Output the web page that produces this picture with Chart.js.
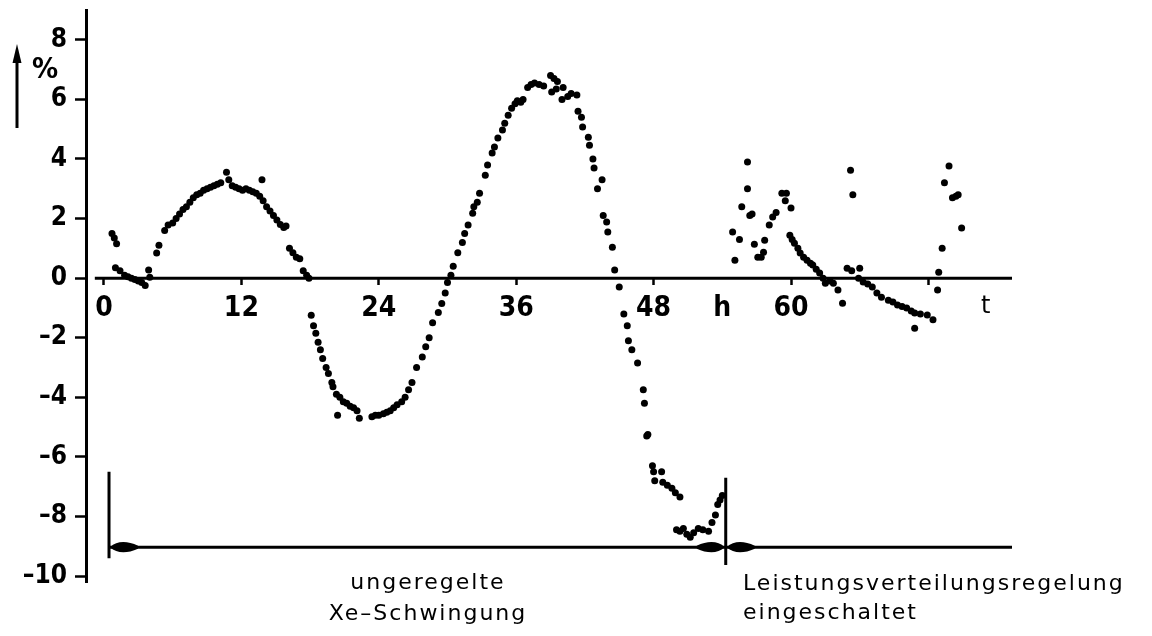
<!DOCTYPE html>
<html>
<head>
<meta charset="utf-8">
<script src="https://cdn.jsdelivr.net/npm/chart.js@4"></script>
<style>
  html, body { margin: 0; padding: 0; background: #fff; }
  canvas { display: block; }
</style>
</head>
<body>
<canvas id="xe" width="1152" height="636"></canvas>
<script>
// Axial power offset (%) over time (h) during a xenon oscillation,
// first uncontrolled, then with power-distribution control switched on.

// first hump, 0..18 h
const hoursA = [0.7, 0.9, 1.1, 1.0, 1.4, 1.8, 2.1, 2.4, 2.7, 3.0, 3.3, 3.6, 3.9, 4.0, 4.6, 4.8, 5.3, 5.6, 6.0, 6.3, 6.6, 6.9, 7.2, 7.5, 7.8, 8.1, 8.4, 8.7, 9.0, 9.3, 9.6, 9.9, 10.2, 10.7, 10.9, 11.2, 11.5, 11.8, 12.1, 12.4, 12.7, 13.0, 13.3, 13.8, 13.6, 13.9, 14.2, 14.5, 14.8, 15.1, 15.4, 15.7, 15.9, 16.2, 16.5, 16.8, 17.1, 17.4, 17.7, 17.9];
const valuesA = [1.5, 1.35, 1.15, 0.35, 0.25, 0.1, 0.05, 0.0, -0.05, -0.1, -0.15, -0.25, 0.27, 0.03, 0.84, 1.1, 1.6, 1.78, 1.85, 2.0, 2.15, 2.3, 2.4, 2.55, 2.7, 2.8, 2.85, 2.95, 3.0, 3.05, 3.1, 3.15, 3.2, 3.55, 3.3, 3.1, 3.05, 3.0, 2.95, 3.0, 2.95, 2.9, 2.85, 3.3, 2.75, 2.6, 2.4, 2.25, 2.1, 1.95, 1.8, 1.7, 1.75, 1.0, 0.85, 0.7, 0.65, 0.25, 0.1, 0.0];

// descent and trough, 18..31 h
const hoursB = [18.1, 18.3, 18.5, 18.7, 18.9, 19.1, 19.4, 19.6, 19.9, 20.0, 20.3, 20.6, 20.9, 21.2, 21.5, 21.8, 22.1, 22.3, 20.4, 23.4, 23.7, 24.0, 24.4, 24.7, 25.0, 25.3, 25.6, 26.0, 26.3, 26.6, 26.9, 27.3, 27.8, 28.1, 28.4, 28.7, 29.2, 29.5, 29.8, 30.0, 30.3, 30.5, 30.9];
const valuesB = [-1.25, -1.6, -1.85, -2.15, -2.4, -2.7, -3.0, -3.2, -3.5, -3.65, -3.9, -4.0, -4.15, -4.2, -4.3, -4.35, -4.45, -4.7, -4.6, -4.65, -4.6, -4.6, -4.55, -4.5, -4.45, -4.35, -4.25, -4.15, -4.0, -3.75, -3.5, -3.0, -2.65, -2.3, -2.0, -1.5, -1.15, -0.85, -0.5, -0.15, 0.1, 0.4, 0.85];

// second, larger peak, 31..45 h
const hoursC = [31.3, 31.5, 31.8, 32.2, 32.3, 32.6, 32.8, 33.3, 33.5, 33.9, 34.1, 34.4, 34.8, 35.0, 35.3, 35.6, 35.9, 36.1, 36.4, 36.6, 37.0, 37.3, 37.6, 38.0, 38.4, 39.0, 39.3, 39.6, 39.1, 39.5, 40.1, 40.0, 40.5, 40.8, 41.3, 41.4, 41.7, 41.8, 42.3, 42.4, 42.7, 42.8, 43.1, 43.5, 43.6, 43.9, 44.0, 44.4, 44.6];
const valuesC = [1.2, 1.5, 1.78, 2.18, 2.4, 2.55, 2.85, 3.45, 3.8, 4.2, 4.4, 4.7, 4.97, 5.2, 5.47, 5.7, 5.85, 5.95, 5.9, 6.0, 6.4, 6.5, 6.55, 6.5, 6.45, 6.8, 6.7, 6.6, 6.25, 6.35, 6.4, 6.0, 6.1, 6.2, 6.15, 5.6, 5.4, 5.07, 4.73, 4.46, 4.0, 3.7, 3.0, 3.3, 2.1, 1.88, 1.55, 1.04, 0.27];

// steep drop until control is switched on, 45..54 h
const hoursD = [45.0, 45.4, 45.7, 45.8, 46.1, 46.6, 47.1, 47.2, 47.4, 47.5, 47.9, 48.0, 48.7, 48.1, 48.8, 49.2, 49.6, 49.9, 50.3, 50.0, 50.3, 50.6, 50.9, 51.2, 51.5, 51.9, 52.3, 52.8, 53.1, 53.4, 53.6, 53.8, 54.0];
const valuesD = [-0.3, -1.2, -1.6, -2.1, -2.4, -2.85, -3.75, -4.2, -5.3, -5.25, -6.3, -6.5, -6.5, -6.8, -6.85, -6.95, -7.05, -7.2, -7.35, -8.45, -8.5, -8.4, -8.6, -8.7, -8.55, -8.4, -8.45, -8.5, -8.2, -7.95, -7.6, -7.45, -7.3];

// controlled operation, 54..75 h
const hoursE = [54.9, 55.1, 55.5, 55.7, 56.2, 56.2, 56.4, 56.6, 56.8, 57.1, 57.4, 57.6, 57.7, 58.1, 58.4, 58.7, 59.2, 59.5, 59.6, 60.0, 59.9, 60.1, 60.3, 60.6, 60.8, 61.1, 61.4, 61.7, 61.9, 62.2, 62.5, 62.8, 63.0, 63.4, 63.7, 64.1, 64.5, 64.9, 65.3, 66.0, 65.2, 65.4, 65.9, 66.3, 66.7, 67.1, 67.5, 67.9, 68.5, 68.9, 69.3, 69.7, 70.1, 70.5, 70.8, 70.8, 71.3, 71.9, 72.4, 72.8, 72.9, 73.2, 74.9, 73.4, 73.8, 74.1, 74.4, 74.6];
const valuesE = [1.55, 0.6, 1.3, 2.4, 3.0, 3.9, 2.1, 2.15, 1.14, 0.7, 0.7, 0.87, 1.27, 1.78, 2.05, 2.2, 2.85, 2.6, 2.85, 2.35, 1.44, 1.3, 1.17, 1.0, 0.84, 0.7, 0.6, 0.5, 0.44, 0.3, 0.17, 0.0, -0.17, -0.1, -0.17, -0.4, -0.84, 0.33, 0.25, 0.33, 3.62, 2.8, 0.0, -0.13, -0.2, -0.3, -0.5, -0.64, -0.74, -0.8, -0.9, -0.95, -1.0, -1.1, -1.17, -1.68, -1.2, -1.24, -1.4, -0.4, 0.2, 1.0, 1.68, 3.2, 3.76, 2.7, 2.75, 2.8];

// axes
const yTicks = [-10, -8, -6, -4, -2, 0, 2, 4, 6, 8];
const xTickHours = [0, 12, 24, 36, 48, 54, 60, 72, 77];
const xTickLabels = ['0', '12', '24', '36', '48', 'h', '60', '', 't'];
const xTickMarks = [0, 12, 24, 36, 48, 60, 72];
const zeroLineHours = [-0.8, 79.3];

// regime markers below the curve
const startHour = 0.44;
const controlOnHour = 54.3;
const arrowLevel = -9.03;
const arrowEndHour = 79.3;

const toPoints = (hs, vs) => hs.map((h, i) => ({ x: h, y: vs[i] }));
const measured = [].concat(
  toPoints(hoursA, valuesA),
  toPoints(hoursB, valuesB),
  toPoints(hoursC, valuesC),
  toPoints(hoursD, valuesD),
  toPoints(hoursE, valuesE)
);

const boldFamily = "'DejaVu Sans Condensed', 'DejaVu Sans', sans-serif";
const textFont = "22px 'DejaVu Sans', sans-serif";

function arrowHead(ctx, tipX, y, dir) {
  // slim lens-shaped head, dir = -1 points left, +1 points right
  const len = 28, half = 6.5;
  const back = tipX - dir * len;
  ctx.beginPath();
  ctx.moveTo(tipX, y);
  ctx.bezierCurveTo(tipX - dir * len * 0.25, y - half, tipX - dir * len * 0.6, y - half, back, y - 1.5);
  ctx.lineTo(back, y + 1.5);
  ctx.bezierCurveTo(tipX - dir * len * 0.6, y + half, tipX - dir * len * 0.25, y + half, tipX, y);
  ctx.fill();
}

const decorations = {
  id: 'decorations',
  afterDraw(chart) {
    const { ctx, scales: { x, y } } = chart;
    ctx.save();
    ctx.fillStyle = '#000';
    ctx.strokeStyle = '#000';

    // unit label with upward arrow
    ctx.font = 'bold 29px ' + boldFamily;
    ctx.textAlign = 'center';
    ctx.textBaseline = 'middle';
    ctx.fillText('%', 45, 70);
    ctx.lineWidth = 3;
    ctx.beginPath();
    ctx.moveTo(17, 128);
    ctx.lineTo(17, 58);
    ctx.stroke();
    ctx.beginPath();
    ctx.moveTo(17, 44);
    ctx.lineTo(12.5, 63);
    ctx.lineTo(21.5, 63);
    ctx.closePath();
    ctx.fill();

    // regime boundaries and arrows
    const x0 = x.getPixelForValue(startHour);
    const x1 = x.getPixelForValue(controlOnHour);
    const x2 = x.getPixelForValue(arrowEndHour);
    const ya = y.getPixelForValue(arrowLevel);
    ctx.lineWidth = 3;
    ctx.beginPath();
    ctx.moveTo(x0, y.getPixelForValue(-6.5));
    ctx.lineTo(x0, y.getPixelForValue(-9.4));
    ctx.moveTo(x1, y.getPixelForValue(-6.7));
    ctx.lineTo(x1, y.getPixelForValue(-9.63));
    ctx.stroke();
    ctx.beginPath();
    ctx.moveTo(x0, ya);
    ctx.lineTo(x2, ya);
    ctx.stroke();
    arrowHead(ctx, x0 + 1, ya, -1);
    arrowHead(ctx, x1 - 1, ya, 1);
    arrowHead(ctx, x1 + 1, ya, -1);

    // captions
    ctx.font = textFont;
    ctx.letterSpacing = '2px';
    ctx.textBaseline = 'alphabetic';
    ctx.textAlign = 'center';
    ctx.fillText('ungeregelte', 428, 589);
    ctx.fillText('Xe\u2013Schwingung', 428, 620);
    ctx.textAlign = 'left';
    ctx.fillText('Leistungsverteilungsregelung', 743, 590);
    ctx.fillText('eingeschaltet', 743, 619);
    ctx.restore();
  }
};

new Chart(document.getElementById('xe'), {
  type: 'scatter',
  data: {
    datasets: [
      {
        type: 'line',
        data: toPoints(zeroLineHours, [0, 0]),
        borderColor: '#000',
        borderWidth: 3,
        pointRadius: 0,
      },
      {
        data: measured,
        backgroundColor: '#000',
        borderWidth: 0,
        pointRadius: 3.5,
      },
    ],
  },
  options: {
    responsive: false,
    animation: false,
    devicePixelRatio: 1,
    layout: { padding: { left: 0, top: 10, right: 140, bottom: 54 } },
    plugins: { legend: { display: false }, tooltip: { enabled: false } },
    scales: {
      x: {
        type: 'linear',
        position: { y: 0 },
        min: -1.57,
        max: 79.3,
        afterFit: (s) => { s.height = 0; s.paddingLeft = 0; s.paddingRight = 0; },
        afterBuildTicks: (s) => { s.ticks = xTickHours.map((v) => ({ value: v })); },
        border: { display: false },
        grid: {
          drawOnChartArea: false,
          drawTicks: true,
          tickLength: 7,
          tickWidth: 2.5,
          tickColor: (c) => (c.tick && xTickMarks.includes(c.tick.value) ? '#000' : 'rgba(0,0,0,0)'),
        },
        ticks: {
          color: '#000',
          padding: 7,
          maxRotation: 0,
          autoSkip: false,
          font: (c) => (c.tick && c.tick.value === 77
            ? { family: "'DejaVu Sans', sans-serif", size: 24, weight: 'normal' }
            : { family: boldFamily, size: 28, weight: 'bold' }),
          callback: (v) => xTickLabels[xTickHours.indexOf(v)] ?? '',
        },
      },
      y: {
        type: 'linear',
        position: 'left',
        min: -10.2,
        max: 9,
        afterFit: (s) => { s.width = 86; s.paddingTop = 0; s.paddingBottom = 0; },
        afterBuildTicks: (s) => { s.ticks = yTicks.map((v) => ({ value: v })); },
        border: { display: true, color: '#000', width: 3 },
        grid: {
          drawOnChartArea: false,
          drawTicks: true,
          tickLength: 11,
          tickWidth: 2.5,
          tickColor: '#000',
        },
        ticks: {
          color: '#000',
          padding: 8,
          font: { family: boldFamily, size: 26, weight: 'bold' },
          callback: (v) => (v < 0 ? '\u2013' + Math.abs(v) : String(v)),
        },
      },
    },
  },
  plugins: [decorations],
});
</script>
</body>
</html>
